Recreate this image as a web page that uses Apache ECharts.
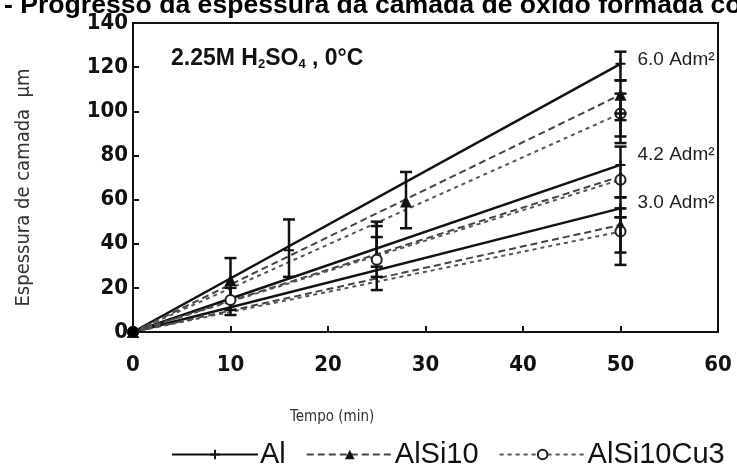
<!DOCTYPE html>
<html>
<head>
<meta charset="utf-8">
<script src="https://cdn.jsdelivr.net/npm/echarts@6/dist/echarts.min.js"></script>
<style>
html,body{margin:0;padding:0;background:#fff;}
#chart{width:737px;height:470px;}
</style>
</head>
<body>
<div id="chart"></div>
<script>
// ---- data ----
const alloys = ['Al', 'AlSi10', 'AlSi10Cu3'];
const densityLabels = ['6.0 Adm²', '4.2 Adm²', '3.0 Adm²'];
const endTime = 50;
// fitted thickness at t = 50 min for 6.0, 4.2, 3.0 A/dm²
const alEnd = [121.5, 75.7, 56];
const alsi10End = [107.5, 70.5, 48.5];
const alsi10cu3End = [99, 69, 45.5];
// measured intermediate points [t, thickness]
const alPoints = [[16, 37]];
const alsi10Points = [[10, 23.6], [28, 59.1]];
const alsi10cu3Points = [[10, 14.5], [25, 32.7]];
// error bars [t, low, high]
const errorBars = [
  [10, 10, 33.5], [10, 7.7, 20],
  [16, 25, 51],
  [25, 19, 48], [25, 25, 50], [25, 29.6, 43],
  [28, 47, 72.5],
  [50, 114, 127], [50, 96, 114], [50, 88.6, 99], [50, 85.6, 108],
  [50, 61, 84], [50, 52, 61], [50, 36, 56], [50, 30.4, 52]
];
const origin = [[0, 0]];
const titleText = '- Progresso da espessura da camada de óxido formada com';
const xName = 'Tempo (min)';
const yName = 'Espessura de camada  µm';

// ---- styles ----
const crossPath = 'path://M4,0L6,0L6,4L10,4L10,6L6,6L6,10L4,10L4,6L0,6L0,4L4,4Z';
const styles = {
  'Al': {line: {color: '#111', width: 2.5, type: 'solid'}, symbol: crossPath, size: 10, item: {color: '#111'}},
  'AlSi10': {line: {color: '#444', width: 2, type: [7, 4]}, symbol: 'triangle', size: 12, item: {color: '#111'}},
  'AlSi10Cu3': {line: {color: '#555', width: 2, type: [4, 4]}, symbol: 'circle', size: 10, item: {color: '#fff', borderColor: '#222', borderWidth: 2, opacity: 1}}
};
const ends = {'Al': alEnd, 'AlSi10': alsi10End, 'AlSi10Cu3': alsi10cu3End};
const points = {'Al': alPoints, 'AlSi10': alsi10Points, 'AlSi10Cu3': alsi10cu3Points};
const labelOffsets = [[0, -4], [0, -10], [0, -6]];

const series = [];
alloys.forEach(name => {
  const st = styles[name];
  ends[name].forEach((v, i) => {
    const endItem = {value: [endTime, v]};
    if (name === 'Al') {
      endItem.label = {
        show: true, formatter: densityLabels[i], position: 'right', distance: 12,
        offset: labelOffsets[i], color: '#222', fontSize: 19,
        fontFamily: 'Liberation Sans, Arial, sans-serif'
      };
    }
    series.push({
      type: 'line', name: name, data: [[0, 0], endItem],
      symbol: st.symbol, symbolSize: st.size, showSymbol: true,
      lineStyle: st.line, itemStyle: st.item, z: 3, silent: true, animation: false
    });
  });
  series.push({
    type: 'scatter', name: name + ' pts', data: points[name],
    symbol: st.symbol, symbolSize: st.size, itemStyle: Object.assign({opacity: 1}, st.item), z: 5, animation: false
  });
});
series.push({
  type: 'custom', name: 'err', data: errorBars, encode: {x: 0, y: [1, 2]}, z: 4, animation: false,
  renderItem: function (params, api) {
    const x = api.value(0);
    const lo = api.coord([x, api.value(1)]);
    const hi = api.coord([x, api.value(2)]);
    const w = 6;
    const s = {stroke: '#111', lineWidth: 2.5};
    return {type: 'group', children: [
      {type: 'line', shape: {x1: lo[0], y1: lo[1], x2: hi[0], y2: hi[1]}, style: s},
      {type: 'line', shape: {x1: lo[0] - w, y1: lo[1], x2: lo[0] + w, y2: lo[1]}, style: s},
      {type: 'line', shape: {x1: hi[0] - w, y1: hi[1], x2: hi[0] + w, y2: hi[1]}, style: s}
    ]};
  }
});
series.push({
  type: 'scatter', name: 'origin', data: origin, symbol: 'circle', symbolSize: 11,
  itemStyle: {color: '#000', opacity: 1}, z: 10, animation: false
});

const tickFont = {color: '#111', fontSize: 22, fontWeight: 'bold',
  fontFamily: 'Liberation Sans Narrow, Arial Narrow, DejaVu Sans Condensed, Liberation Sans, sans-serif'};

const chart = echarts.init(document.getElementById('chart'), null, {renderer: 'canvas'});
chart.setOption({
  animation: false,
  backgroundColor: '#fff',
  title: [
    {text: titleText, left: -1, top: -13,
      textStyle: {fontSize: 26.6, fontWeight: 'bold', color: '#000', fontFamily: 'Liberation Sans, Arial, sans-serif'}},
    {text: '{a|2.25M H}{s|2}{a|SO}{s|4}{a| , 0°C}', left: 166, top: 41,
      textStyle: {rich: {
        a: {fontSize: 23, fontWeight: 'bold', color: '#111', fontFamily: 'Liberation Sans, Arial, sans-serif'},
        s: {fontSize: 13, fontWeight: 'bold', color: '#111', padding: [12, 0, 0, 0], fontFamily: 'Liberation Sans, Arial, sans-serif'}
      }}}
  ],
  grid: {left: 133, right: 19, top: 23, bottom: 138, show: true, borderColor: '#111', borderWidth: 2, backgroundColor: 'transparent'},
  xAxis: {
    type: 'value', min: 0, max: 60, interval: 10,
    axisLine: {show: true, lineStyle: {color: '#111', width: 2}},
    axisTick: {show: true, inside: true, length: 6, lineStyle: {color: '#111', width: 2}},
    axisLabel: Object.assign({margin: 22}, tickFont),
    splitLine: {show: false}
  },
  yAxis: {
    type: 'value', min: 0, max: 140, interval: 20,
    name: yName, nameLocation: 'middle', nameGap: 99, nameRotate: 90,
    nameTextStyle: {color: '#333', fontSize: 20, padding: [0, 20, 0, 0], fontFamily: 'Liberation Sans Narrow, Arial Narrow, DejaVu Sans Condensed, sans-serif'},
    axisLine: {show: true, lineStyle: {color: '#111', width: 2}},
    axisTick: {show: true, inside: true, length: 6, lineStyle: {color: '#111', width: 2}},
    axisLabel: Object.assign({margin: 5}, tickFont),
    splitLine: {show: false}
  },
  legend: {
    data: alloys, left: 166, top: 435, itemWidth: 86, itemHeight: 12, itemGap: 20,
    textStyle: {fontSize: 29, color: '#111', fontFamily: 'Liberation Sans, Arial, sans-serif', padding: [0, 0, 0, -3]},
    selectedMode: false
  },
  graphic: [
    {type: 'text', left: 290, top: 410, style: {text: xName, fontSize: 15, fill: '#333',
      fontFamily: 'Liberation Sans Narrow, Arial Narrow, DejaVu Sans Condensed, sans-serif'}}
  ],
  series: series
});
</script>
</body>
</html>
